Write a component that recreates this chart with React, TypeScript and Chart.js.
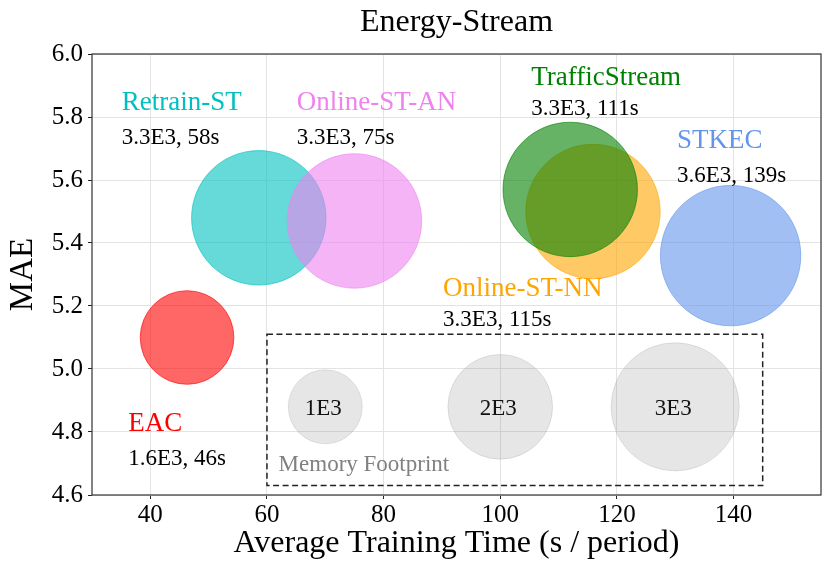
import { useEffect, useRef } from "react"
import { Chart, registerables } from "chart.js"

Chart.register(...registerables)

const SERIF = '"Liberation Serif", "DejaVu Serif", serif'

// methods, drawn in this order (later ones sit on top)
const methods = ["Retrain-ST", "Online-ST-AN", "Online-ST-NN", "TrafficStream", "STKEC", "EAC"]
const trainTimes = [58.6, 75.0, 115.9, 112.0, 139.5, 46.3]
const maeValues = [5.48, 5.47, 5.5, 5.57, 5.36, 5.1]
const memoryE3 = [3.3, 3.3, 3.3, 3.3, 3.6, 1.6]
const infoLabels = ["3.3E3, 58s", "3.3E3, 75s", "3.3E3, 115s", "3.3E3, 111s", "3.6E3, 139s", "1.6E3, 46s"]
const methodColors = ["#00BFBF", "#EE82EE", "#FFA500", "#008000", "#6495ED", "#FF0000"]
const methodFills = [
  "rgba(0,191,191,0.6)",
  "rgba(238,130,238,0.6)",
  "rgba(255,165,0,0.6)",
  "rgba(0,128,0,0.6)",
  "rgba(100,149,237,0.6)",
  "rgba(255,0,0,0.6)",
]

// text annotations (data coordinates)
const nameX = [35.1, 65.1, 90.2, 105.3, 130.3, 36.2]
const nameY = [5.85, 5.85, 5.26, 5.93, 5.73, 4.83]
const infoY = [5.74, 5.74, 5.16, 5.83, 5.62, 4.72]

// memory footprint legend
const legendLabels = ["1E3", "2E3", "3E3"]
const legendMem = [1, 2, 3]
const legendX = [70, 100, 130]
const legendY = [4.88, 4.88, 4.88]
const boxX = [60, 145]
const boxY = [4.63, 5.11]

const xTicks = [40, 60, 80, 100, 120, 140]
const yTicks = [4.6, 4.8, 5.0, 5.2, 5.4, 5.6, 5.8, 6.0]

// bubble radius in px from memory (area ~ memory)
const radiusFor = (mem: number) => 37 * Math.sqrt(mem)

const overlayPlugin = {
  id: "overlay",
  afterDatasetsDraw(chart: any) {
    const { ctx, scales } = chart
    const xs = scales.x
    const ys = scales.y
    ctx.save()

    // dashed box round the legend bubbles
    ctx.setLineDash([6, 3.5])
    ctx.strokeStyle = "#222"
    ctx.lineWidth = 1.5
    const bl = xs.getPixelForValue(boxX[0])
    const br = xs.getPixelForValue(boxX[1])
    const bt = ys.getPixelForValue(boxY[1])
    const bb = ys.getPixelForValue(boxY[0])
    ctx.strokeRect(bl, bt, br - bl, bb - bt)
    ctx.setLineDash([])

    ctx.textAlign = "left"
    ctx.textBaseline = "alphabetic"
    methods.forEach((m, i) => {
      const px = xs.getPixelForValue(nameX[i])
      ctx.font = `27px ${SERIF}`
      ctx.fillStyle = methodColors[i]
      ctx.fillText(m, px, ys.getPixelForValue(nameY[i]) + 27 * 0.33)
      ctx.font = `23px ${SERIF}`
      ctx.fillStyle = "#000"
      ctx.fillText(infoLabels[i], px, ys.getPixelForValue(infoY[i]) + 23 * 0.34)
    })

    ctx.textAlign = "center"
    ctx.fillStyle = "#111"
    ctx.font = `23px ${SERIF}`
    legendLabels.forEach((t, i) => {
      ctx.fillText(t, xs.getPixelForValue(legendX[i]) - 2, ys.getPixelForValue(legendY[i]) + 23 * 0.34)
    })

    ctx.textAlign = "left"
    ctx.fillStyle = "#808080"
    ctx.fillText("Memory Footprint", xs.getPixelForValue(62), ys.getPixelForValue(4.7) + 23 * 0.33)
    ctx.restore()
  },
  afterDraw(chart: any) {
    const { ctx, chartArea } = chart
    const { left, right, top, bottom } = chartArea
    const cx = (left + right) / 2
    ctx.save()
    ctx.strokeStyle = "#333"
    ctx.lineWidth = 1.2
    ctx.strokeRect(left, top, right - left, bottom - top)

    ctx.fillStyle = "#000"
    ctx.textAlign = "center"
    ctx.textBaseline = "alphabetic"
    ctx.font = `32px ${SERIF}`
    ctx.fillText("Energy-Stream", cx, 31)
    ctx.fillText("Average Training Time (s / period)", cx, 552)

    ctx.translate(32, (top + bottom) / 2)
    ctx.rotate(-Math.PI / 2)
    ctx.font = `33px ${SERIF}`
    ctx.fillText("MAE", 0, 0)
    ctx.restore()
  },
}

export default function App() {
  const canvasRef = useRef<HTMLCanvasElement>(null)
  const chartRef = useRef<Chart | null>(null)

  useEffect(() => {
    if (!canvasRef.current) return
    if (chartRef.current) chartRef.current.destroy()

    chartRef.current = new Chart(canvasRef.current, {
      type: "bubble",
      data: {
        datasets: [
          {
            label: "methods",
            data: methods.map((_, i) => ({ x: trainTimes[i], y: maeValues[i], r: radiusFor(memoryE3[i]) })),
            backgroundColor: methodFills,
            borderColor: methodFills,
            borderWidth: 1,
            hoverRadius: 0,
            clip: false,
          },
          {
            label: "memory",
            data: legendMem.map((m, i) => ({ x: legendX[i], y: legendY[i], r: radiusFor(m) })),
            backgroundColor: "rgba(128,128,128,0.2)",
            borderColor: "rgba(128,128,128,0.2)",
            borderWidth: 1,
            hoverRadius: 0,
            clip: false,
          },
        ],
      },
      options: {
        animation: false,
        responsive: true,
        maintainAspectRatio: false,
        events: [],
        layout: { autoPadding: false, padding: { top: 54, right: 9, left: 0, bottom: 0 } },
        plugins: {
          legend: { display: false },
          title: { display: false },
          tooltip: { enabled: false },
        },
        scales: {
          x: {
            type: "linear",
            min: 30,
            max: 155,
            afterBuildTicks: (s: any) => {
              s.ticks = xTicks.map((v) => ({ value: v }))
            },
            afterFit: (s: any) => {
              s.height = 84
            },
            grid: { color: "#e3e3e3", tickColor: "#222", tickLength: 4, lineWidth: 1 },
            border: { display: false },
            ticks: {
              font: { family: SERIF, size: 25 },
              color: "#000",
              padding: 1,
              maxRotation: 0,
            },
          },
          y: {
            type: "linear",
            min: 4.6,
            max: 6.0,
            afterBuildTicks: (s: any) => {
              s.ticks = yTicks.map((v) => ({ value: v }))
            },
            afterFit: (s: any) => {
              s.width = 92
            },
            grid: { color: "#e3e3e3", tickColor: "#222", tickLength: 4, lineWidth: 1 },
            border: { display: false },
            ticks: {
              font: { family: SERIF, size: 25 },
              color: "#000",
              padding: 5,
              callback: (v: any) => Number(v).toFixed(1),
            },
          },
        },
      },
      plugins: [overlayPlugin],
    })

    return () => {
      if (chartRef.current) {
        chartRef.current.destroy()
        chartRef.current = null
      }
    }
  }, [])

  return (
    <div style={{ position: "absolute", left: 0, top: 0, width: 830, height: 579, background: "#fff" }}>
      <canvas ref={canvasRef}></canvas>
    </div>
  )
}
